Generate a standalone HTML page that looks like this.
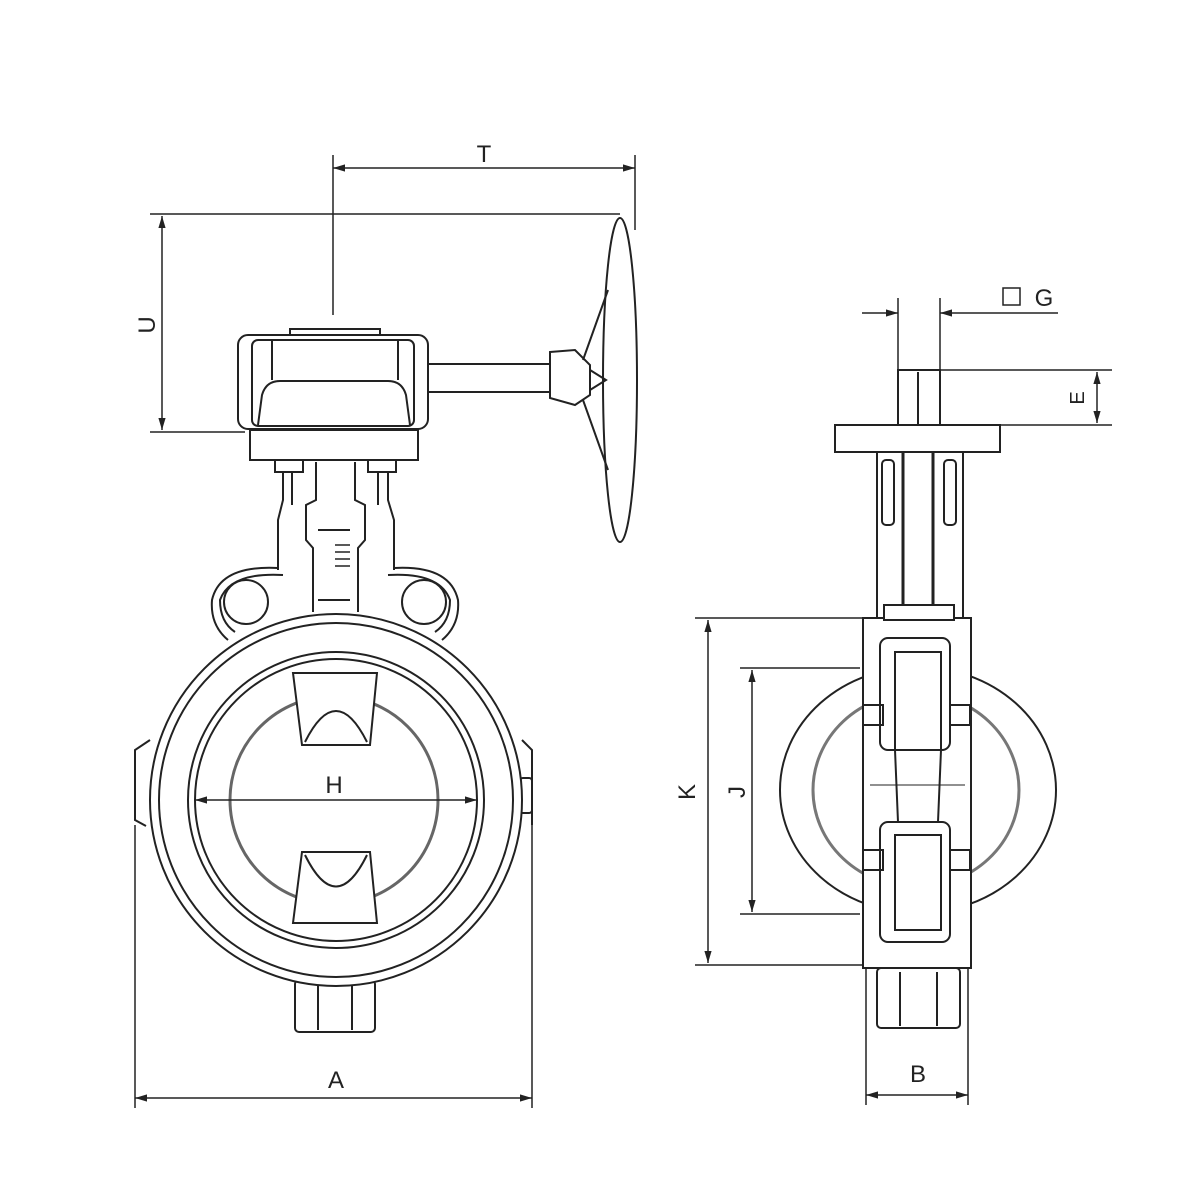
<!DOCTYPE html>
<html><head><style>html,body{margin:0;background:#fff}svg{display:block}</style></head><body>
<svg width="1200" height="1200" viewBox="0 0 1200 1200" xmlns="http://www.w3.org/2000/svg" font-family="Liberation Sans, sans-serif">
<defs>
<marker id="ar" viewBox="0 0 10 10" refX="10" refY="5" markerWidth="8" markerHeight="8" orient="auto-start-reverse"><path d="M0,2 L10,5 L0,8 z" fill="#222"/></marker>
</defs>
<g fill="none" stroke="#222" stroke-width="2">
<!-- LEFT VIEW -->
<!-- gearbox -->
<rect x="290" y="329" width="90" height="8" fill="#fff"/>
<rect x="238" y="335" width="190" height="94" rx="10" fill="#fff"/>
<rect x="252" y="340" width="162" height="86" rx="6"/>
<line x1="272" y1="340" x2="272" y2="380"/><line x1="398" y1="340" x2="398" y2="380"/>
<path d="M258,425 L262,395 Q266,381 280,381 L388,381 Q402,381 406,395 L410,425"/>
<rect x="250" y="430" width="168" height="30" fill="#fff"/>
<rect x="275" y="460" width="28" height="12"/><rect x="368" y="460" width="28" height="12"/>
<!-- shaft & handwheel -->
<rect x="428" y="364" width="122" height="28" fill="#fff"/>
<path d="M550,352 L575,350 L590,365 L590,395 L575,405 L550,398 Z" fill="#fff"/>
<ellipse cx="620" cy="380" rx="17" ry="162" fill="#fff"/>
<path d="M583,360 L608,290 M583,400 L608,470 M590,370 L606,380 L590,390"/>
<!-- neck -->
<path d="M283,472 L283,500 L278,520 L278,570 M388,472 L388,500 L394,520 L394,570"/>
<path d="M292,472 L292,505 M378,472 L378,505"/>
<path d="M316,462 L316,500 L306,505 L306,540 L313,548 L313,612 M355,462 L355,500 L365,505 L365,540 L358,548 L358,612"/>
<path d="M318,530 L350,530 M318,600 L350,600"/>
<path d="M335,545 L350,545 M335,552 L350,552 M335,559 L350,559 M335,566 L350,566" stroke-width="1.5"/>
<!-- lugs -->
<path d="M278,568 Q220,565 212,600 Q210,625 228,640 M394,568 Q450,565 458,600 Q460,625 442,640"/>
<path d="M283,575 Q230,572 220,600 Q220,622 235,632 M388,575 Q440,572 450,600 Q450,622 435,632"/>
<circle cx="246" cy="602" r="22"/><circle cx="424" cy="602" r="22"/>
<!-- side lugs -->
<path d="M150,740 L135,750 L135,820 L146,826"/><rect x="520" y="778" width="12" height="35" rx="3"/>
<path d="M522,740 L532,750 L532,825"/>
<!-- bottom boss -->
<rect x="295" y="980" width="80" height="52" rx="4" fill="#fff"/>
<line x1="318" y1="982" x2="318" y2="1030"/><line x1="352" y1="982" x2="352" y2="1030"/>
<!-- body circles -->
<circle cx="336" cy="800" r="186" fill="#fff"/>
<circle cx="336" cy="800" r="177"/>
<circle cx="336" cy="800" r="148"/>
<circle cx="336" cy="800" r="141"/>
<circle cx="334" cy="800" r="104" stroke="#666" stroke-width="3"/>
<!-- vanes -->
<path d="M293,673 L377,673 L370,745 L302,745 Z" fill="#fff"/>
<path d="M305,742 Q336,680 367,742"/>
<path d="M302,852 L370,852 L377,923 L293,923 Z" fill="#fff"/>
<path d="M305,855 Q336,918 367,855"/>
</g>
<g stroke="#222" stroke-width="1.5" fill="none">
<!-- T -->
<line x1="333" y1="155" x2="333" y2="315"/><line x1="635" y1="155" x2="635" y2="230"/>
<line x1="333" y1="168" x2="635" y2="168" marker-start="url(#ar)" marker-end="url(#ar)"/>
<!-- U -->
<line x1="150" y1="214" x2="620" y2="214"/><line x1="150" y1="432" x2="245" y2="432"/>
<line x1="162" y1="216" x2="162" y2="430" marker-start="url(#ar)" marker-end="url(#ar)"/>
<!-- A -->
<line x1="135" y1="825" x2="135" y2="1108"/><line x1="532" y1="825" x2="532" y2="1108"/>
<line x1="135" y1="1098" x2="532" y2="1098" marker-start="url(#ar)" marker-end="url(#ar)"/>
<!-- H -->
<line x1="195" y1="800" x2="477" y2="800" marker-start="url(#ar)" marker-end="url(#ar)"/>
</g>
<g fill="none" stroke="#222" stroke-width="2">
<!-- RIGHT VIEW -->
<ellipse cx="918" cy="790" rx="138" ry="123" fill="#fff"/>
<ellipse cx="916" cy="790" rx="103" ry="97" stroke="#777" stroke-width="3"/>
<rect x="898" y="370" width="42" height="56" fill="#fff"/>
<line x1="918" y1="372" x2="918" y2="424"/>
<rect x="835" y="425" width="165" height="27" fill="#fff"/>
<rect x="877" y="452" width="86" height="166" fill="#fff"/>
<rect x="882" y="460" width="12" height="65" rx="4"/><rect x="944" y="460" width="12" height="65" rx="4"/>
<line x1="903" y1="452" x2="903" y2="630" stroke-width="3"/><line x1="933" y1="452" x2="933" y2="630" stroke-width="3"/>
<rect x="863" y="618" width="108" height="350" fill="#fff"/>
<rect x="884" y="605" width="70" height="15" fill="#fff"/>
<rect x="880" y="638" width="70" height="112" rx="8"/>
<rect x="895" y="652" width="46" height="98"/>
<rect x="880" y="822" width="70" height="120" rx="8"/>
<rect x="895" y="835" width="46" height="95"/>
<path d="M895,750 L898,822 M941,750 L938,822"/>
<line x1="870" y1="785" x2="965" y2="785" stroke-width="1"/>
<rect x="863" y="705" width="20" height="20"/><rect x="950" y="705" width="20" height="20"/>
<rect x="863" y="850" width="20" height="20"/><rect x="950" y="850" width="20" height="20"/>
<rect x="877" y="968" width="83" height="60" rx="4" fill="#fff"/>
<line x1="900" y1="972" x2="900" y2="1026"/><line x1="937" y1="972" x2="937" y2="1026"/>
</g>
<g stroke="#222" stroke-width="1.5" fill="none">
<!-- G -->
<line x1="898" y1="298" x2="898" y2="370"/><line x1="940" y1="298" x2="940" y2="370"/>
<line x1="862" y1="313" x2="898" y2="313" marker-end="url(#ar)"/>
<line x1="1058" y1="313" x2="940" y2="313" marker-end="url(#ar)"/>
<!-- E -->
<line x1="940" y1="370" x2="1112" y2="370"/><line x1="1000" y1="425" x2="1112" y2="425"/>
<line x1="1097" y1="372" x2="1097" y2="423" marker-start="url(#ar)" marker-end="url(#ar)"/>
<!-- K -->
<line x1="695" y1="618" x2="862" y2="618"/><line x1="695" y1="965" x2="862" y2="965"/>
<line x1="708" y1="620" x2="708" y2="963" marker-start="url(#ar)" marker-end="url(#ar)"/>
<!-- J -->
<line x1="740" y1="668" x2="860" y2="668"/><line x1="740" y1="914" x2="860" y2="914"/>
<line x1="752" y1="670" x2="752" y2="912" marker-start="url(#ar)" marker-end="url(#ar)"/>
<!-- B -->
<line x1="866" y1="968" x2="866" y2="1105"/><line x1="968" y1="968" x2="968" y2="1105"/>
<line x1="866" y1="1095" x2="968" y2="1095" marker-start="url(#ar)" marker-end="url(#ar)"/>
</g>
<g fill="#222" font-size="24" text-anchor="middle">
<text x="484" y="162">T</text>
<text x="336" y="1088">A</text>
<text x="334" y="793">H</text>
<text x="918" y="1082">B</text>
<text transform="translate(155,325) rotate(-90)">U</text>
<text transform="translate(695,792) rotate(-90)">K</text>
<text transform="translate(745,792) rotate(-90)">J</text>
<text transform="translate(1084,398) rotate(-90)" font-size="20">E</text>
<text x="1044" y="306">G</text>
</g>
<rect x="1003" y="288" width="17" height="17" fill="none" stroke="#222" stroke-width="1.5"/>
</svg>
</body></html>
